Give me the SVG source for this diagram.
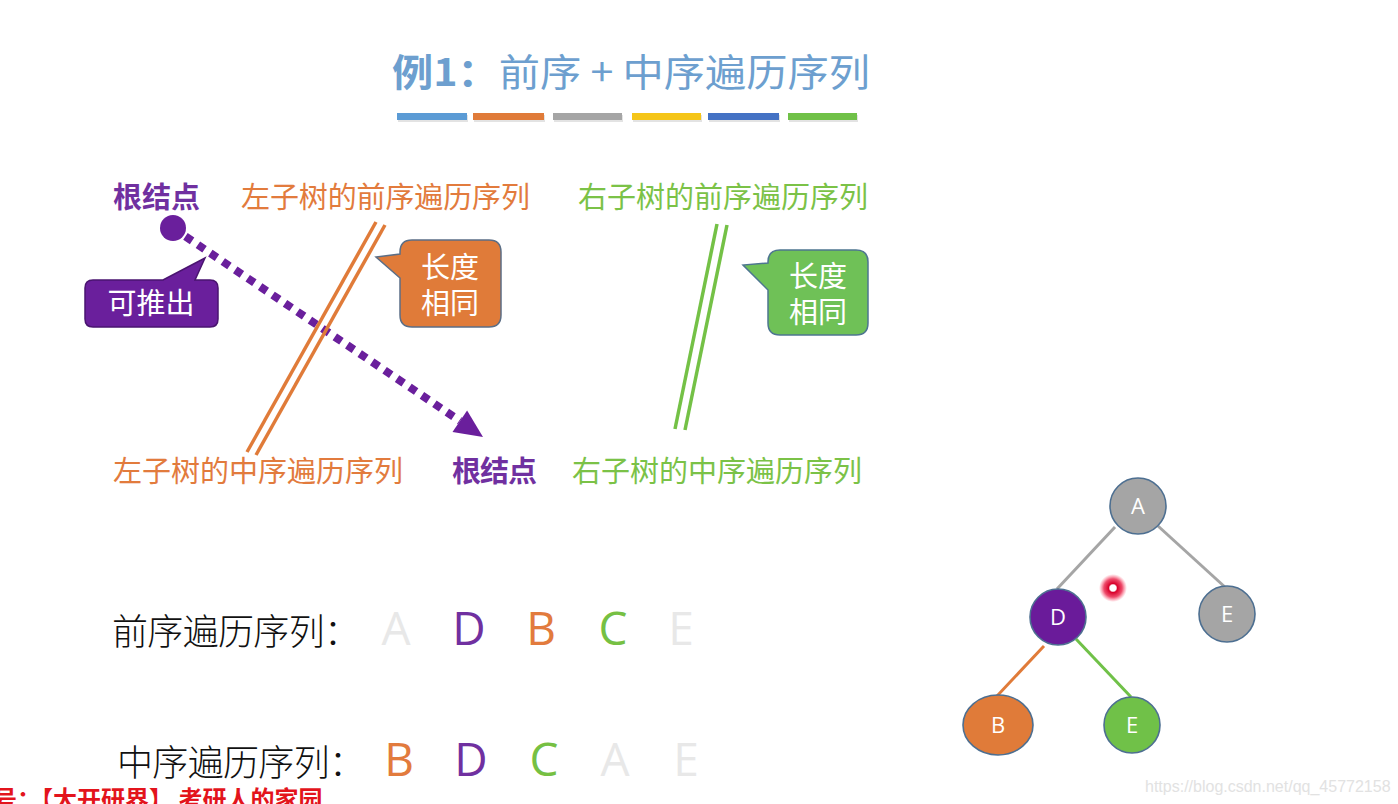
<svg xmlns="http://www.w3.org/2000/svg" width="1398" height="804" viewBox="0 0 1398 804">
<defs>
<style>
.cjk{font-family:"Noto Sans CJK SC","Noto Sans",sans-serif;}
.lab{font-size:29px;}
.pur{fill:#7030a0;}
.org{fill:#e27b3d;}
.grn{fill:#7bc247;}
.call{font-family:"Noto Sans CJK SC",sans-serif;font-size:29px;fill:#ffffff;text-anchor:middle;}
.seq{font-family:"Noto Sans CJK SC",sans-serif;font-size:36px;fill:#111111;font-weight:300;}
.let{font-family:"Open Sans","Noto Sans",sans-serif;font-size:46px;text-anchor:middle;}
.node{stroke:#4d6f91;stroke-width:1.6;}
.nl{font-family:"Open Sans","Noto Sans",sans-serif;font-size:22px;fill:#ffffff;text-anchor:middle;}
</style>
<radialGradient id="laser" cx="0.5" cy="0.5" r="0.5">
<stop offset="0" stop-color="#ffffff"/>
<stop offset="0.22" stop-color="#ffffff"/>
<stop offset="0.32" stop-color="#d8002a"/>
<stop offset="0.65" stop-color="#e8103a" stop-opacity="0.75"/>
<stop offset="1" stop-color="#ff4060" stop-opacity="0"/>
</radialGradient>
</defs>
<rect width="1398" height="804" fill="#ffffff"/>

<g id="title">
<text class="cjk" x="392" y="86" font-size="38" fill="#6d9fcf" textLength="478" lengthAdjust="spacingAndGlyphs"><tspan font-weight="bold">例1：</tspan>前序 + 中序遍历序列</text>
<g id="bars">
<rect x="398" y="115" width="70" height="7" fill="#d0d0d0" opacity="0.6"/>
<rect x="397" y="113" width="70" height="7" fill="#5b9bd5"/>
<rect x="474" y="115" width="71" height="7" fill="#d0d0d0" opacity="0.6"/>
<rect x="473" y="113" width="71" height="7" fill="#e07b39"/>
<rect x="554" y="115" width="69" height="7" fill="#d0d0d0" opacity="0.6"/>
<rect x="553" y="113" width="69" height="7" fill="#a5a5a5"/>
<rect x="633" y="115" width="69" height="7" fill="#d0d0d0" opacity="0.6"/>
<rect x="632" y="113" width="69" height="7" fill="#f5c518"/>
<rect x="709" y="115" width="71" height="7" fill="#d0d0d0" opacity="0.6"/>
<rect x="708" y="113" width="71" height="7" fill="#4472c4"/>
<rect x="789" y="115" width="69" height="7" fill="#d0d0d0" opacity="0.6"/>
<rect x="788" y="113" width="69" height="7" fill="#70c148"/>
</g>
</g>

<g id="label-root-pre"><text class="cjk lab pur" x="113" y="208" font-weight="bold" textLength="87">根结点</text></g>
<g id="label-left-pre"><text class="cjk lab org" x="241" y="208" textLength="289">左子树的前序遍历序列</text></g>
<g id="label-right-pre"><text class="cjk lab grn" x="578" y="208" textLength="290">右子树的前序遍历序列</text></g>
<g id="label-left-in"><text class="cjk lab org" x="113" y="482" textLength="290">左子树的中序遍历序列</text></g>
<g id="label-root-in"><text class="cjk lab pur" x="452" y="482" font-weight="bold" textLength="85">根结点</text></g>
<g id="label-right-in"><text class="cjk lab grn" x="572" y="482" textLength="290">右子树的中序遍历序列</text></g>

<g id="connectors">
<line x1="173" y1="228" x2="460" y2="421" stroke="#6a1f9c" stroke-width="8" stroke-dasharray="8 7"/>
<polygon points="483,437 452.5,432.1 467.1,410.5" fill="#6a1f9c"/>
<line x1="376" y1="222" x2="247" y2="452" stroke="#e07b39" stroke-width="3.5"/>
<line x1="385" y1="225" x2="256" y2="455" stroke="#e07b39" stroke-width="3.5"/>
<line x1="717" y1="224" x2="675" y2="429" stroke="#74c146" stroke-width="3.5"/>
<line x1="727" y1="225" x2="685" y2="430" stroke="#74c146" stroke-width="3.5"/>
<line x1="1115" y1="527" x2="1057" y2="589" stroke="#a5a5a5" stroke-width="3"/>
<line x1="1158" y1="526" x2="1226" y2="588" stroke="#a5a5a5" stroke-width="3"/>
<line x1="1044" y1="646" x2="997" y2="696" stroke="#e07b39" stroke-width="3"/>
<line x1="1076" y1="639" x2="1131" y2="697" stroke="#70c148" stroke-width="3"/>
</g>

<g id="root-dot"><circle cx="173" cy="228" r="13" fill="#6a1f9c"/></g>

<g id="callout-derive">
<path d="M93,280 L163,280 L205,258 L195,280 L210,280 Q218,280 218,288 L218,319 Q218,327 210,327 L93,327 Q85,327 85,319 L85,288 Q85,280 93,280 Z" fill="#6a1f9c" stroke="#4a1470" stroke-width="1.5"/>
<text class="call" x="151" y="314">可推出</text>
</g>

<g id="callout-left">
<path d="M412,240 L489,240 Q501,240 501,252 L501,315 Q501,327 489,327 L412,327 Q400,327 400,315 L400,278 L376,257 L400,254 L400,252 Q400,240 412,240 Z" fill="#e07b39" stroke="#5b6e86" stroke-width="1.5"/>
<text class="call" x="450" y="278">长度</text>
<text class="call" x="450" y="314">相同</text>
</g>

<g id="callout-right">
<path d="M780,250 L856,250 Q868,250 868,262 L868,323 Q868,335 856,335 L780,335 Q768,335 768,323 L768,290 L743,265 L768,263 L768,262 Q768,250 780,250 Z" fill="#6fc157" stroke="#4d7590" stroke-width="1.5"/>
<text class="call" x="818" y="287">长度</text>
<text class="call" x="818" y="323">相同</text>
</g>

<g id="preorder">
<text class="seq" x="112" y="645" textLength="248">前序遍历序列：</text>
<text class="let" x="396" y="645" fill="#e8e8e8">A</text>
<text class="let" x="469" y="645" fill="#7030a0">D</text>
<text class="let" x="541" y="645" fill="#e27b3d">B</text>
<text class="let" x="613" y="645" fill="#76c043">C</text>
<text class="let" x="681" y="645" fill="#e8e8e8">E</text>
</g>

<g id="inorder">
<text class="seq" x="117" y="776" textLength="248">中序遍历序列：</text>
<text class="let" x="399" y="776" fill="#e27b3d">B</text>
<text class="let" x="471" y="776" fill="#7030a0">D</text>
<text class="let" x="544" y="776" fill="#76c043">C</text>
<text class="let" x="615" y="776" fill="#e8e8e8">A</text>
<text class="let" x="686" y="776" fill="#e8e8e8">E</text>
</g>

<g id="node-A"><circle class="node" cx="1138" cy="506" r="28" fill="#a5a5a5"/><text class="nl" x="1138" y="514">A</text></g>
<g id="node-D"><circle class="node" cx="1058" cy="617" r="28" fill="#6a1b9a"/><text class="nl" x="1058" y="625">D</text></g>
<g id="node-E1"><circle class="node" cx="1227" cy="614" r="28" fill="#a5a5a5"/><text class="nl" x="1227" y="622">E</text></g>
<g id="node-B"><ellipse class="node" cx="998" cy="725" rx="35" ry="30" fill="#e07b39"/><text class="nl" x="998" y="733">B</text></g>
<g id="node-E2"><circle class="node" cx="1132" cy="725" r="28" fill="#70c148"/><text class="nl" x="1132" y="733">E</text></g>

<g id="laser-dot"><circle cx="1113" cy="588" r="14" fill="url(#laser)"/></g>

<g id="watermarks">
<text x="-7" y="808" font-family="'Noto Sans CJK SC',sans-serif" font-size="24" font-weight="bold" fill="#e3141c">号：【大开研界】 考研人的家园</text>
<text x="1145" y="792" font-family="'Liberation Sans',Arial,sans-serif" font-size="16" fill="#e2e2e2">https://blog.csdn.net/qq_45772158</text>
</g>
</svg>
